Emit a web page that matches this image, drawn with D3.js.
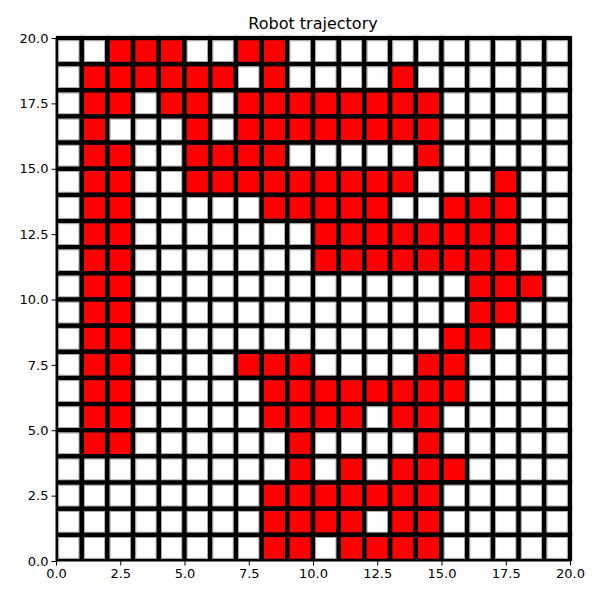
<!DOCTYPE html>
<html>
<head>
<meta charset="utf-8">
<script src="https://cdn.jsdelivr.net/npm/d3@7"></script>
<style>
  html, body { margin: 0; padding: 0; background: #fff; }
  svg { display: block; }
  text { font-family: "DejaVu Sans", sans-serif; }
</style>
</head>
<body>
<svg id="chart" width="600" height="600"></svg>
<script>
// Grid rows from top (y = 19) to bottom (y = 0); "1" = visited (red) cell
const gridRows = [
  "00111001100000000000",
  "01111110100001000000",
  "01101101111111100000",
  "01000101111111100000",
  "01100111100000100000",
  "01100111111111000100",
  "01100000111110011100",
  "01100000001111111100",
  "01100000001111111100",
  "01100000000000001110",
  "01100000000000001100",
  "01100000000000011000",
  "01100001110000110000",
  "01100000111111110000",
  "01100000111101100000",
  "01100000010000100000",
  "00000000010101110000",
  "00000000111111100000",
  "00000000111101100000",
  "00000000110111100000"
];
const xTicks = [0, 2.5, 5, 7.5, 10, 12.5, 15, 17.5, 20];
const yTicks = [0, 2.5, 5, 7.5, 10, 12.5, 15, 17.5, 20];
const title = "Robot trajectory";

const svg = d3.select("#chart");
const L = 56, R = 570, T = 38, B = 561;
const n = gridRows.length;
const x = d3.scaleLinear().domain([0, 20]).range([L, R]);
const y = d3.scaleLinear().domain([0, 20]).range([B, T]);

const cells = [];
gridRows.forEach((row, i) => {
  const yy = n - 1 - i;
  row.split("").forEach((c, xx) => cells.push({ x: xx, y: yy, on: c === "1" }));
});

svg.append("defs").append("clipPath").attr("id", "clip")
  .append("rect").attr("x", L).attr("y", T - 2.5).attr("width", R - L + 2.5).attr("height", B - T + 2.5);

const g = svg.append("g").attr("clip-path", "url(#clip)");
g.selectAll("rect.cell").data(cells).enter().append("rect")
  .attr("class", "cell")
  .attr("x", d => x(d.x))
  .attr("y", d => y(d.y + 1))
  .attr("width", d => x(d.x + 1) - x(d.x))
  .attr("height", d => y(d.y) - y(d.y + 1))
  .attr("fill", d => d.on ? "#ff0000" : "#ffffff")
  .attr("stroke", "#000")
  .attr("stroke-width", 4.5);

// thin inner gray edges (antialias look)
g.selectAll("rect.inner").data(cells.filter(d => !d.on)).enter().append("rect")
  .attr("class", "inner")
  .attr("x", d => x(d.x) + 2.75)
  .attr("y", d => y(d.y + 1) + 2.75)
  .attr("width", d => x(d.x + 1) - x(d.x) - 5.5)
  .attr("height", d => y(d.y) - y(d.y + 1) - 5.5)
  .attr("fill", "none")
  .attr("stroke", "#999")
  .attr("stroke-width", 0.8);

// spines
svg.append("rect").attr("x", L).attr("y", T).attr("width", R - L).attr("height", B - T)
  .attr("fill", "none").attr("stroke", "#000").attr("stroke-width", 1);

const fmt = d3.format(".1f");
const xAxis = svg.append("g").attr("transform", `translate(0,${B})`)
  .call(d3.axisBottom(x).tickValues(xTicks).tickFormat(fmt).tickSize(4.5).tickPadding(3));
const yAxis = svg.append("g").attr("transform", `translate(${L},0)`)
  .call(d3.axisLeft(y).tickValues(yTicks).tickFormat(fmt).tickSize(4.5).tickPadding(3));
[xAxis, yAxis].forEach(a => {
  a.select(".domain").remove();
  a.selectAll("text").attr("font-family", "DejaVu Sans, sans-serif").attr("font-size", 13).attr("fill", "#000");
  a.selectAll("line").attr("stroke", "#000").attr("stroke-width", 1);
});

svg.append("text").attr("x", (L + R) / 2).attr("y", 29)
  .attr("text-anchor", "middle").attr("font-size", 16).attr("fill", "#000")
  .text(title);
</script>
</body>
</html>
